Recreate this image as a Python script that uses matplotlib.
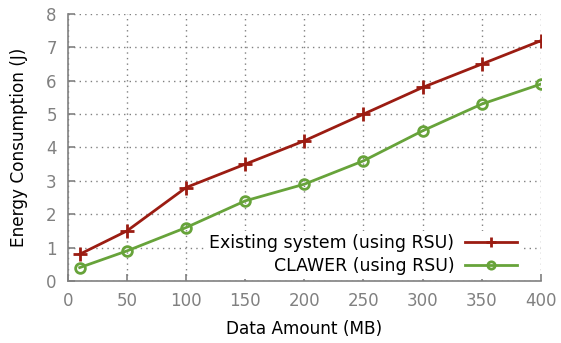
import numpy as np
import matplotlib.pyplot as plt

data_mb = [10, 50, 100, 150, 200, 250, 300, 350, 400]
existing = [0.8, 1.5, 2.8, 3.5, 4.2, 5.0, 5.8, 6.5, 7.2]
clawer = [0.4, 0.9, 1.6, 2.4, 2.9, 3.6, 4.5, 5.3, 5.9]
x_ticks = [0, 50, 100, 150, 200, 250, 300, 350, 400]
y_ticks = [0, 1, 2, 3, 4, 5, 6, 7, 8]

plt.rcParams['font.family'] = ['DejaVu Sans']

fig = plt.figure(figsize=(5.61, 3.43), dpi=100)
ax = fig.add_axes([0.121, 0.181, 0.843, 0.778])

grey = '#808080'
ax.plot(data_mb, existing, color='#9b1c12', lw=2, marker='+', ms=10, mew=2,
        label='Existing system (using RSU)', zorder=3)
ax.plot(data_mb, clawer, color='#67a33a', lw=2, marker='o', ms=7, mew=2,
        mfc='none', label='CLAWER (using RSU)', zorder=3)

ax.set_xlim(0, 400)
ax.set_ylim(0, 8)
ax.set_xticks(x_ticks)
ax.set_yticks(y_ticks)
ax.grid(True, ls=(0, (1, 3)), color=grey, lw=1)

for s in ['top', 'right']:
    ax.spines[s].set_visible(False)
for s in ['left', 'bottom']:
    ax.spines[s].set_color(grey)
    ax.spines[s].set_linewidth(1.2)
ax.tick_params(direction='in', colors=grey, labelsize=12, length=5, width=1.2, pad=8)
for lab in ax.get_xticklabels() + ax.get_yticklabels():
    lab.set_color(grey)

ax.set_xlabel('Data Amount (MB)', fontsize=12.2, labelpad=7)
ax.set_ylabel('Energy Consumption (J)', fontsize=12.2, labelpad=13)

leg = ax.legend(loc='lower right', bbox_to_anchor=(0.975, -0.025), markerfirst=False,
                frameon=True, fontsize=12.5, handlelength=3.0, borderpad=0.2,
                labelspacing=0.3, handletextpad=0.6, markerscale=0.75)
leg.get_frame().set_facecolor('white')
leg.get_frame().set_edgecolor('none')
leg.get_frame().set_alpha(1)
leg.set_zorder(2.2)
for t in leg.get_texts():
    t.set_ha('right')

fig.savefig('out.png', dpi=100)
